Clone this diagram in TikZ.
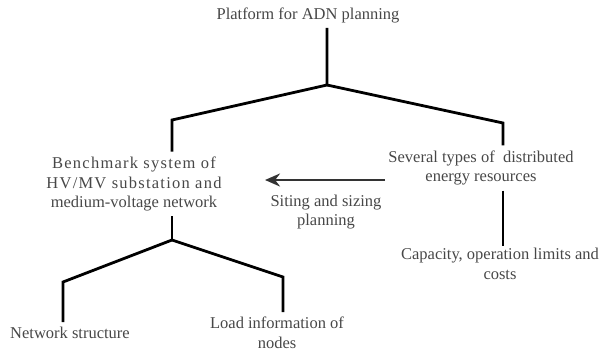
\documentclass[tikz,border=0pt]{standalone}
\usepackage{fontspec}
\setmainfont{Liberation Serif}
\usepackage{tikz}
\usetikzlibrary{arrows.meta, positioning}
\tikzset{x=1pt, y=-1pt,
    textnode/.style={align=center, inner sep=2pt, text=black!72,
        font=\fontsize{16.5}{19.5}\selectfont},
    branch/.style={draw, line width=2.8pt, black, shorten <=3pt, shorten >=3pt},
    siting/.style={draw, line width=2.8pt, black!80, -{Stealth[length=15pt,width=13pt]}}}
\newcommand{\spreadline}[1]{{\addfontfeatures{LetterSpace=7.5}#1}}

\begin{document}
\begin{tikzpicture}
\useasboundingbox (0,0) rectangle (605,354);
% nodes
\node[textnode] (plat)  at (308,15)  {Platform for ADN planning};
\node[textnode] (bench) at (134,184) {\spreadline{Benchmark system of}\\
    \spreadline{HV/MV substation and}\\medium-voltage network};
\node[textnode] (der)   at (481,168) {Several types of~ distributed\\energy resources};
\node[textnode] (cap)   at (500,264) {Capacity, operation limits and\\costs};
\node[textnode] (sit)   at (326,212) {Siting and sizing\\planning};
\node[textnode] (net)   at (70,333)  {Network structure};
\node[textnode] (load)  at (277,333) {Load information of\\nodes};
% corners of the tree
\coordinate (jtop)  at (327,85);
\coordinate (jleft) at (172,120);
\coordinate (jright) at (503,123);
\coordinate (jlow)  at (172,240);
\coordinate (jnet)  at (63,282);
\coordinate (jload) at (283,277);
\coordinate (sitA) at (385,180);
\coordinate (sitB) at (265,180);
% connectors
\draw[branch] (plat.south -| jtop) -- (jtop) -- (jleft) -- (bench.north -| jleft);
\draw[branch, shorten <=0pt] (jtop) -- (jright) -- (der.north -| jright);
\draw[branch, shorten >=0pt] (der.south -| jright) -- (cap.north -| jright);
\draw[branch, shorten >=0pt] (bench.south -| jlow) -- (jlow);
\draw[branch, shorten <=0pt] (jlow) -- (jnet) -- (net.north -| jnet);
\draw[branch, shorten <=0pt] (jlow) -- (jload) -- (load.north -| jload);
\draw[siting] (sitA) -- (sitB);
\end{tikzpicture}
\end{document}
